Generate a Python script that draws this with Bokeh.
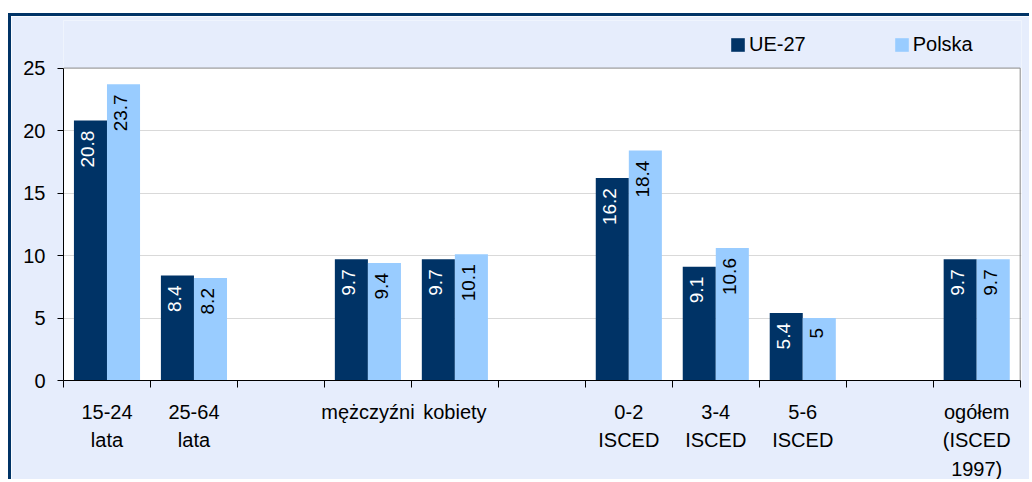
from bokeh.plotting import figure
from bokeh.models import (ColumnDataSource, Range1d, FixedTicker, Legend, LegendItem)
from bokeh.embed import file_html
from bokeh.resources import INLINE
from bokeh.core.properties import value

categories = ["15-24\nlata", "25-64\nlata", "", "mężczyźni", "kobiety", "",
              "0-2\nISCED", "3-4\nISCED", "5-6\nISCED", "", "ogółem\n(ISCED\n1997)"]
ue27 = [20.8, 8.4, None, 9.7, 9.7, None, 16.2, 9.1, 5.4, None, 9.7]
polska = [23.7, 8.2, None, 9.4, 10.1, None, 18.4, 10.6, 5.0, None, 9.7]
ue27_labels = ["20.8", "8.4", "", "9.7", "9.7", "", "16.2", "9.1", "5.4", "", "9.7"]
polska_labels = ["23.7", "8.2", "", "9.4", "10.1", "", "18.4", "10.6", "5", "", "9.7"]
y_ticks = [0, 5, 10, 15, 20, 25]

DARK = "#003366"
LIGHT = "#99ccff"
BG = "#e6edfc"
FONT = "Liberation Sans"
BW = 0.38

N = len(categories)
Y_MAX = y_ticks[-1]
Y_TOP = Y_MAX + 48 / 12.6      # extra room above the plot area for the legend

idx = [i for i, c in enumerate(categories) if c != ""]
centers = [i + 0.5 for i in idx]

src_a = ColumnDataSource(dict(x=[c - BW / 2 for c in centers], top=[ue27[i] for i in idx],
                              lab=[ue27_labels[i] for i in idx]))
src_b = ColumnDataSource(dict(x=[c + BW / 2 for c in centers], top=[polska[i] for i in idx],
                              lab=[polska_labels[i] for i in idx]))

p = figure(width=1021, height=466, output_backend="svg", toolbar_location=None,
           x_range=Range1d(0, N + 0.015), y_range=Range1d(0, Y_TOP))
p.styles = {"margin-top": "13px", "margin-left": "8px",
            "border-top": "3px solid #003366", "border-left": "3px solid #003366"}
p.min_border_left = 52
p.min_border_right = 11
p.min_border_top = 4
p.min_border_bottom = 99
p.border_fill_color = BG
p.background_fill_color = "white"
p.outline_line_color = None

# area above the plot box, same colour as the surround
p.quad(left=-1, right=N + 1, bottom=Y_MAX, top=Y_TOP + 1, fill_color=BG, line_color=None)
# plot-box outline (top and right)
p.segment(x0=[0, N], y0=[Y_MAX, 0], x1=[N, N], y1=[Y_MAX, Y_MAX],
          line_color="#888888", line_width=1)

ra = p.vbar(x="x", top="top", width=BW, bottom=0, source=src_a, fill_color=DARK, line_color=None)
rb = p.vbar(x="x", top="top", width=BW, bottom=0, source=src_b, fill_color=LIGHT, line_color=None)

p.text(x="x", y="top", text="lab", source=src_a, angle=1.5708, text_align="right",
       text_baseline="middle", x_offset=-3, y_offset=10, text_color="white",
       text_font=value(FONT), text_font_size="19px")
p.text(x="x", y="top", text="lab", source=src_b, angle=1.5708, text_align="right",
       text_baseline="middle", x_offset=-3, y_offset=10, text_color="black",
       text_font=value(FONT), text_font_size="19px")

# x axis
xa = p.xaxis[0]
xa.ticker = FixedTicker(ticks=centers, minor_ticks=list(range(N + 1)))
xa.major_label_overrides = {c: categories[i] for c, i in zip(centers, idx)}
xa.major_tick_out = 0
xa.major_tick_in = 0
xa.minor_tick_out = 7
xa.minor_tick_in = 0
xa.minor_tick_line_color = "black"
xa.axis_line_color = "black"
xa.major_label_standoff = 13
xa.major_label_text_font = FONT
xa.major_label_text_font_size = "20px"
xa.major_label_text_color = "black"
xa.major_label_text_line_height = 1.3
xa.bounds = (0, N)

# y axis
ya = p.yaxis[0]
ya.ticker = FixedTicker(ticks=y_ticks)
ya.bounds = (0, Y_MAX)
ya.major_tick_out = 6
ya.major_tick_in = 0
ya.major_tick_line_color = "black"
ya.minor_tick_line_color = None
ya.axis_line_color = "black"
ya.major_label_standoff = 12
ya.major_label_text_font = FONT
ya.major_label_text_font_size = "20px"
ya.major_label_text_color = "black"

p.xgrid.grid_line_color = None
p.ygrid.grid_line_color = "#d9d9d9"
p.ygrid.ticker = FixedTicker(ticks=[5, 10, 15, 20])

legend = Legend(items=[LegendItem(label="UE-27", renderers=[ra]),
                       LegendItem(label="Polska", renderers=[rb])],
                location=(666, 324), orientation="horizontal",
                glyph_width=17, glyph_height=17, label_standoff=3, spacing=87,
                padding=0, margin=0, border_line_color=None,
                background_fill_alpha=0, label_text_font=FONT,
                label_text_font_size="20px", label_text_color="black",
                label_height=20)
p.add_layout(legend, "center")

open("out.html", "w").write(file_html(p, INLINE))
